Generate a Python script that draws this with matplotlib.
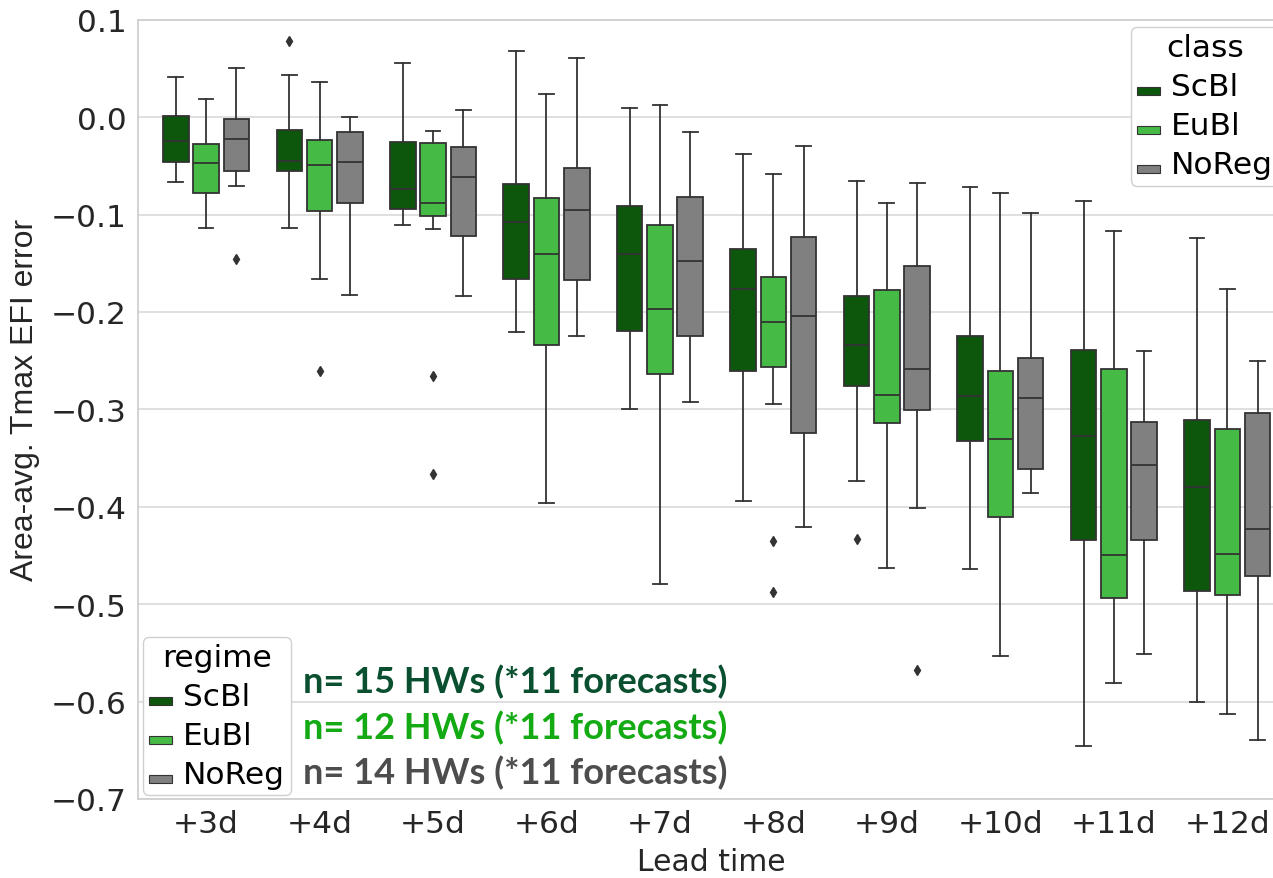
import matplotlib
matplotlib.use('Agg')
import matplotlib.pyplot as plt
import matplotlib.patches as mpatches
from matplotlib.legend_handler import HandlerPatch

# lead times and classes
lead_times = ['+3d', '+4d', '+5d', '+6d', '+7d', '+8d', '+9d', '+10d', '+11d', '+12d']
classes = ['ScBl', 'EuBl', 'NoReg']
colors = ['#0d570d', '#45ba45', '#808080']

# box statistics (per class, one value per lead time)
scbl_whishi = [0.041, 0.043, 0.056, 0.068, 0.009, -0.038, -0.066, -0.072, -0.086, -0.124]
scbl_q3 = [0.001, -0.013, -0.026, -0.069, -0.091, -0.135, -0.184, -0.225, -0.239, -0.311]
scbl_med = [-0.025, -0.045, -0.074, -0.108, -0.141, -0.176, -0.234, -0.286, -0.327, -0.380]
scbl_q1 = [-0.046, -0.055, -0.094, -0.166, -0.220, -0.261, -0.276, -0.332, -0.434, -0.486]
scbl_whislo = [-0.067, -0.114, -0.111, -0.221, -0.300, -0.394, -0.374, -0.464, -0.646, -0.600]
scbl_fliers = {1: [0.078], 6: [-0.433]}

eubl_whishi = [0.019, 0.036, -0.014, 0.024, 0.012, -0.058, -0.088, -0.078, -0.117, -0.176]
eubl_q3 = [-0.028, -0.024, -0.027, -0.083, -0.111, -0.164, -0.177, -0.261, -0.259, -0.320]
eubl_med = [-0.047, -0.049, -0.088, -0.141, -0.197, -0.210, -0.285, -0.330, -0.450, -0.449]
eubl_q1 = [-0.078, -0.096, -0.102, -0.234, -0.264, -0.257, -0.314, -0.411, -0.494, -0.491]
eubl_whislo = [-0.114, -0.166, -0.115, -0.396, -0.479, -0.295, -0.463, -0.553, -0.581, -0.613]
eubl_fliers = {1: [-0.261], 2: [-0.266, -0.366], 5: [-0.435, -0.488]}

noreg_whishi = [0.050, 0.000, 0.007, 0.061, -0.015, -0.030, -0.068, -0.098, -0.240, -0.250]
noreg_q3 = [-0.002, -0.015, -0.031, -0.052, -0.082, -0.123, -0.153, -0.247, -0.313, -0.304]
noreg_med = [-0.022, -0.046, -0.061, -0.095, -0.148, -0.204, -0.259, -0.288, -0.357, -0.423]
noreg_q1 = [-0.055, -0.088, -0.122, -0.167, -0.225, -0.324, -0.301, -0.361, -0.434, -0.471]
noreg_whislo = [-0.071, -0.183, -0.184, -0.225, -0.292, -0.421, -0.401, -0.386, -0.551, -0.639]
noreg_fliers = {0: [-0.146], 6: [-0.568]}

n_labels = ['n= 15 HWs (*11 forecasts)', 'n= 12 HWs (*11 forecasts)', 'n= 14 HWs (*11 forecasts)']
n_colors = ['#0a5030', '#14aa14', '#4d4d4d']
n_ypos = [-0.579, -0.626, -0.672]

data = [
    (scbl_whislo, scbl_q1, scbl_med, scbl_q3, scbl_whishi, scbl_fliers),
    (eubl_whislo, eubl_q1, eubl_med, eubl_q3, eubl_whishi, eubl_fliers),
    (noreg_whislo, noreg_q1, noreg_med, noreg_q3, noreg_whishi, noreg_fliers),
]

fig = plt.figure(figsize=(12.73, 8.79), dpi=100)
ax = fig.add_axes([138 / 1273, 1 - 800 / 879, 1146 / 1273, 779.3 / 879])

line_col = '#333333'
fs = 22.5
for i, (lo, q1, med, q3, hi, fl) in enumerate(data):
    stats = []
    for j in range(len(lead_times)):
        stats.append({'whislo': lo[j], 'q1': q1[j], 'med': med[j], 'q3': q3[j],
                      'whishi': hi[j], 'fliers': fl.get(j, [])})
    pos = [j + (i - 1) * 0.2667 for j in range(len(lead_times))]
    ax.bxp(stats, positions=pos, widths=0.225, capwidths=0.13, patch_artist=True,
           manage_ticks=False,
           boxprops=dict(facecolor=colors[i], edgecolor=line_col, linewidth=1.3),
           medianprops=dict(color=line_col, linewidth=1.3),
           whiskerprops=dict(color=line_col, linewidth=1.3),
           capprops=dict(color=line_col, linewidth=1.3),
           flierprops=dict(marker='d', markerfacecolor=line_col, markeredgecolor=line_col,
                           markersize=5.5))

ax.set_xlim(-0.6, 9.5)
ax.set_ylim(-0.7, 0.1)
ax.set_xticks(range(len(lead_times)))
ax.set_xticklabels(lead_times)
ax.set_yticks([0.1, 0.0, -0.1, -0.2, -0.3, -0.4, -0.5, -0.6, -0.7])
ax.tick_params(axis='both', length=0, labelsize=fs, colors='#262626')
ax.tick_params(axis='y', pad=8)
ax.tick_params(axis='x', pad=7)
ax.yaxis.grid(True, color='#dcdcdc', linewidth=1.3)
ax.set_axisbelow(True)
for s in ax.spines.values():
    s.set_color('#d0d0d0')
    s.set_linewidth(1.3)

ax.set_xlabel('Lead time', fontsize=21.5, color='#262626')
ax.xaxis.set_label_coords(0.5, -0.062)
fig.text(25 / 1273, 1 - 400 / 879, 'Area-avg. Tmax EFI error', rotation=90,
         ha='center', va='center', fontsize=23, family='Liberation Sans', color='#262626')


# flat little rectangles as legend keys
def flat_patch(legend, orig_handle, xdescent, ydescent, width, height, fontsize):
    return mpatches.Rectangle((-xdescent, -ydescent), width, 0.26 * fontsize)


handles = [mpatches.Patch(facecolor=c, edgecolor=line_col, linewidth=0.8) for c in colors]
leg_kw = dict(borderaxespad=0, fontsize=fs, title_fontsize=fs, handlelength=0.72,
              handleheight=0.7, handletextpad=0.35, borderpad=0.2, labelspacing=0.32,
              edgecolor='#d0d0d0', framealpha=1, bbox_transform=fig.transFigure,
              handler_map={mpatches.Patch: HandlerPatch(patch_func=flat_patch)})
leg1 = ax.legend(handles, classes, title='class', loc='upper left',
                 bbox_to_anchor=(1131 / 1273, 1 - 28 / 879), **leg_kw)
ax.add_artist(leg1)
ax.legend(handles, classes, title='regime', loc='lower left',
          bbox_to_anchor=(143 / 1273, 1 - 796 / 879), **leg_kw)

for lab, col, yv in zip(n_labels, n_colors, n_ypos):
    ax.text(0.854, yv, lab, color=col, fontsize=26,
            family='Lato', fontweight='bold', ha='left', va='center')

fig.savefig('out.png', dpi=100)
